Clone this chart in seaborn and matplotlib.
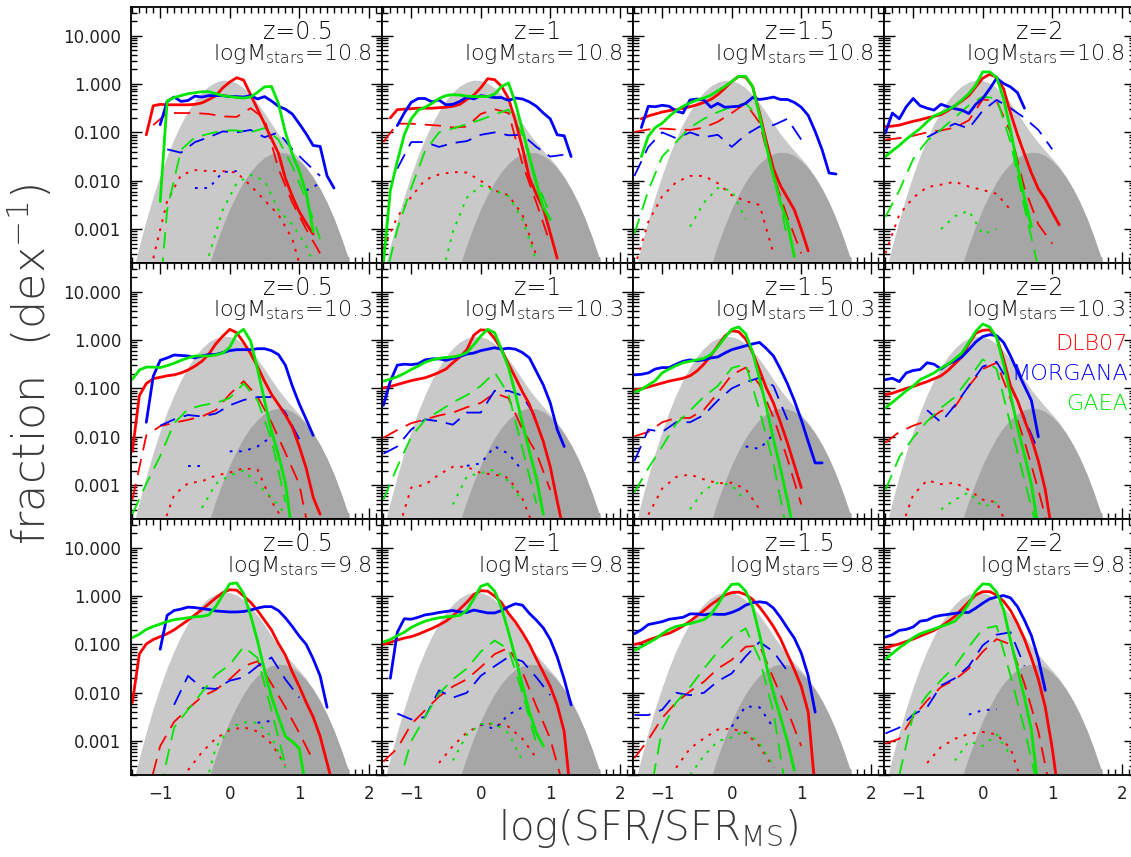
import numpy as np
import pandas as pd
import matplotlib
matplotlib.use('Agg')
import matplotlib.pyplot as plt
import seaborn as sns
from matplotlib.ticker import FixedLocator, MultipleLocator, LogLocator, NullFormatter

# panel grid: rows = stellar mass, columns = redshift
REDSHIFTS = ['0.5', '1', '1.5', '2']
MASSES = ['10.8', '10.3', '9.8']
MODELS = ['DLB07', 'MORGANA', 'GAEA']
MODEL_COLORS = ['#ff0000', '#0000ff', '#00e600']

# reference distributions (log10 fraction)
GRAY_X = np.round(np.arange(-1.5, 1.95, 0.1), 2)
TOTAL_LOG = [-4.54, -3.92, -3.34, -2.81, -2.32, -1.88, -1.48, -1.13, -0.82, -0.56,
             -0.34, -0.17, -0.04, 0.04, 0.08, 0.07, 0.02, -0.08, -0.22, -0.40,
             -0.60, -0.82, -1.03, -1.21, -1.38, -1.54, -1.71, -1.92, -2.16, -2.45,
             -2.78, -3.16, -3.58, -4.05, -4.56]
BURST_LOG = [-6, -6, -6, -6, -6, -6, -6, -6, -6, -6,
             -6, -4.24, -3.76, -3.32, -2.93, -2.58, -2.28, -2.02, -1.81, -1.64,
             -1.52, -1.44, -1.41, -1.42, -1.48, -1.59, -1.74, -1.93, -2.17, -2.45,
             -2.78, -3.16, -3.58, -4.05, -4.56]

# model curves: (first log(SFR/SFR_MS), log10 fraction values)
# solid: step 0.1, dashed / dotted: step 0.2; panels in row order
DLB07_SOLID = [
    (-1.2, [-1.05, -0.45, -0.42, -0.43, -0.43, -0.43, -0.43, -0.42, -0.39, -0.32, -0.24, -0.08, 0.04, 0.13, 0.08, -0.22, -0.52, -0.82, -1.13, -1.43, -1.95, -2.32, -2.64, -2.88, -3.1]),
    (-1.3, [-0.7, -0.53, -0.52, -0.51, -0.5, -0.5, -0.5, -0.49, -0.48, -0.46, -0.42, -0.32, -0.23, -0.08, 0.11, 0.09, -0.05, -0.3, -0.77, -1.32, -1.94, -2.28, -2.57, -3.08, -3.6]),
    (-1.3, [-0.72, -0.66, -0.62, -0.58, -0.55, -0.53, -0.5, -0.47, -0.43, -0.38, -0.32, -0.22, -0.09, 0.05, 0.16, 0.14, -0.05, -0.6, -1.2, -1.75, -2.1, -2.35, -2.6, -3.0, -3.45]),
    (-1.4, [-0.88, -0.87, -0.85, -0.81, -0.77, -0.74, -0.7, -0.67, -0.63, -0.55, -0.45, -0.35, -0.24, -0.06, 0.12, 0.2, 0.14, -0.1, -0.6, -1.05, -1.45, -1.84, -2.17, -2.38, -2.65, -2.91]),
    (-1.4, [-2.3, -1.15, -0.9, -0.8, -0.77, -0.74, -0.72, -0.68, -0.62, -0.54, -0.44, -0.29, -0.08, 0.08, 0.22, 0.15, -0.05, -0.28, -0.55, -0.85, -1.12, -1.33, -1.55, -1.8, -2.2, -2.65, -3.25, -3.6]),
    (-1.4, [-0.99, -0.96, -0.92, -0.88, -0.84, -0.81, -0.78, -0.73, -0.67, -0.6, -0.47, -0.35, -0.2, 0.1, 0.21, 0.2, 0.03, -0.2, -0.5, -0.78, -1.07, -1.33, -1.7, -2.1, -2.62, -3.33, -4.0]),
    (-1.4, [-1.03, -1.01, -0.97, -0.93, -0.89, -0.85, -0.82, -0.79, -0.74, -0.64, -0.5, -0.32, -0.12, 0.08, 0.19, 0.17, 0.02, -0.26, -0.62, -1.0, -1.3, -1.7, -2.12, -2.58, -3.05]),
    (-1.4, [-1.13, -1.1, -1.05, -1.0, -0.96, -0.91, -0.86, -0.8, -0.74, -0.63, -0.49, -0.35, -0.07, 0.14, 0.2, 0.21, 0.06, -0.4, -0.95, -1.25, -1.65, -2.03, -2.5, -3.1, -4.0]),
    (-1.4, [-2.2, -1.2, -0.99, -0.9, -0.84, -0.78, -0.7, -0.6, -0.5, -0.39, -0.28, -0.16, -0.04, 0.07, 0.13, 0.12, 0.0, -0.13, -0.3, -0.5, -0.7, -0.98, -1.22, -1.57, -1.87, -2.2, -2.5, -2.9, -3.45, -4.0]),
    (-1.4, [-1.0, -0.96, -0.91, -0.87, -0.84, -0.79, -0.73, -0.67, -0.6, -0.52, -0.41, -0.27, -0.13, 0.03, 0.11, 0.1, 0.0, -0.14, -0.36, -0.54, -0.76, -1.0, -1.3, -1.58, -1.87, -2.25, -2.8, -4.2]),
    (-1.4, [-1.0, -0.97, -0.91, -0.86, -0.81, -0.77, -0.7, -0.62, -0.52, -0.41, -0.3, -0.18, -0.08, 0.02, 0.07, 0.08, 0.03, -0.07, -0.23, -0.42, -0.63, -0.88, -1.2, -1.52, -1.87, -2.4, -4.0]),
    (-1.4, [-1.07, -1.03, -0.99, -0.94, -0.89, -0.83, -0.77, -0.71, -0.63, -0.53, -0.42, -0.27, -0.12, 0.02, 0.09, 0.09, 0.02, -0.11, -0.3, -0.57, -0.89, -1.28, -1.72, -2.3, -3.15, -4.2]),
]
MORGANA_SOLID = [
    (-1.0, [-0.84, -0.36, -0.27, -0.36, -0.34, -0.25, -0.27, -0.24, -0.24, -0.24, -0.26, -0.26, -0.27, -0.24, -0.31, -0.26, -0.35, -0.46, -0.52, -0.62, -0.82, -1.03, -1.27, -1.29, -1.9, -2.15]),
    (-1.2, [-0.86, -0.6, -0.38, -0.3, -0.3, -0.37, -0.33, -0.43, -0.42, -0.36, -0.27, -0.31, -0.24, -0.26, -0.28, -0.28, -0.34, -0.29, -0.31, -0.37, -0.46, -0.6, -0.72, -1.05, -1.07, -1.5]),
    (-1.3, [-0.9, -0.46, -0.47, -0.44, -0.46, -0.56, -0.6, -0.33, -0.31, -0.33, -0.48, -0.4, -0.48, -0.47, -0.46, -0.4, -0.28, -0.32, -0.3, -0.27, -0.32, -0.32, -0.38, -0.48, -0.65, -0.98, -1.36, -1.84, -1.86]),
    (-1.4, [-1.01, -0.6, -0.72, -0.47, -0.3, -0.45, -0.5, -0.54, -0.42, -0.47, -0.51, -0.54, -0.61, -0.42, -0.3, -0.1, 0.12, 0.01, -0.06, -0.18, -0.5]),
    (-1.2, [-1.7, -0.75, -0.42, -0.37, -0.31, -0.32, -0.33, -0.37, -0.33, -0.3, -0.3, -0.26, -0.22, -0.2, -0.2, -0.2, -0.18, -0.18, -0.22, -0.3, -0.52, -0.95, -1.32, -1.64, -1.97]),
    (-1.4, [-1.35, -0.85, -0.52, -0.5, -0.51, -0.49, -0.41, -0.39, -0.39, -0.42, -0.38, -0.34, -0.29, -0.27, -0.22, -0.19, -0.16, -0.19, -0.17, -0.19, -0.26, -0.37, -0.65, -0.93, -1.3, -1.85, -2.2]),
    (-1.4, [-0.72, -0.71, -0.68, -0.6, -0.57, -0.57, -0.5, -0.44, -0.41, -0.43, -0.41, -0.37, -0.35, -0.27, -0.2, -0.16, -0.12, -0.08, -0.05, -0.18, -0.33, -0.6, -0.9, -1.25, -1.65, -2.1, -2.54, -2.54]),
    (-1.4, [-0.82, -0.79, -0.86, -0.68, -0.63, -0.61, -0.47, -0.5, -0.6, -0.5, -0.43, -0.35, -0.2, -0.04, 0.07, 0.11, 0.09, -0.05, -0.33, -0.65, -0.95, -1.25, -2.0]),
    (-1.0, [-1.1, -0.4, -0.3, -0.27, -0.23, -0.24, -0.26, -0.28, -0.31, -0.32, -0.33, -0.33, -0.32, -0.29, -0.25, -0.22, -0.22, -0.3, -0.45, -0.63, -0.83, -1.0, -1.3, -1.65, -2.3]),
    (-1.3, [-1.7, -0.75, -0.47, -0.48, -0.44, -0.39, -0.37, -0.34, -0.32, -0.3, -0.33, -0.34, -0.29, -0.32, -0.35, -0.35, -0.3, -0.22, -0.16, -0.19, -0.36, -0.5, -0.66, -0.9, -1.26, -1.72, -2.25]),
    (-1.4, [-0.78, -0.7, -0.59, -0.56, -0.53, -0.48, -0.46, -0.44, -0.37, -0.37, -0.39, -0.37, -0.38, -0.38, -0.34, -0.28, -0.19, -0.14, -0.12, -0.14, -0.25, -0.44, -0.66, -0.87, -1.18, -1.65, -2.4]),
    (-1.4, [-0.85, -0.8, -0.71, -0.69, -0.64, -0.52, -0.5, -0.43, -0.4, -0.38, -0.36, -0.34, -0.34, -0.25, -0.15, -0.06, -0.02, 0.01, -0.04, -0.22, -0.5, -0.82, -1.3, -1.95]),
]
GAEA_SOLID = [
    (-1.0, [-2.43, -0.35, -0.28, -0.24, -0.2, -0.18, -0.16, -0.16, -0.2, -0.24, -0.26, -0.28, -0.29, -0.27, -0.17, -0.06, -0.05, -0.4, -1.0, -1.45, -1.8, -2.25, -3.05]),
    (-1.4, [-3.7, -2.2, -1.6, -1.05, -0.72, -0.54, -0.48, -0.4, -0.3, -0.24, -0.22, -0.23, -0.25, -0.26, -0.26, -0.26, -0.21, -0.05, 0.02, -0.4, -0.95, -1.5, -2.05, -2.55, -2.8]),
    (-1.3, [-1.5, -1.08, -0.9, -0.81, -0.67, -0.55, -0.46, -0.39, -0.33, -0.29, -0.23, -0.14, -0.05, 0.05, 0.16, 0.16, -0.05, -0.65, -1.3, -1.9, -2.45, -2.85, -3.57]),
    (-1.4, [-1.5, -1.38, -1.27, -1.14, -1.03, -0.92, -0.78, -0.66, -0.6, -0.53, -0.45, -0.33, -0.2, -0.02, 0.25, 0.25, 0.14, -0.3, -0.95, -1.7, -2.35, -2.95]),
    (-1.4, [-0.81, -0.62, -0.56, -0.56, -0.57, -0.53, -0.48, -0.42, -0.37, -0.33, -0.33, -0.33, -0.31, -0.27, -0.15, 0.12, 0.22, -0.02, -0.6, -1.25, -1.88, -2.37, -2.95, -4.0]),
    (-1.4, [-0.85, -0.81, -0.76, -0.69, -0.61, -0.54, -0.46, -0.41, -0.38, -0.36, -0.35, -0.32, -0.26, -0.1, 0.08, 0.22, 0.15, -0.2, -0.57, -1.12, -1.72, -2.3, -2.85, -3.6]),
    (-1.4, [-1.08, -1.02, -0.93, -0.84, -0.68, -0.6, -0.53, -0.47, -0.44, -0.41, -0.38, -0.3, -0.14, 0.05, 0.22, 0.27, 0.13, -0.25, -0.8, -1.4, -2.05, -2.65, -3.3, -4.0]),
    (-1.4, [-1.4, -1.29, -1.17, -1.05, -0.95, -0.82, -0.75, -0.68, -0.58, -0.5, -0.39, -0.27, -0.05, 0.18, 0.33, 0.27, 0.05, -0.5, -1.13, -1.8, -2.37, -2.99, -3.9]),
    (-1.4, [-0.86, -0.79, -0.69, -0.63, -0.58, -0.53, -0.49, -0.47, -0.45, -0.43, -0.42, -0.39, -0.22, 0.02, 0.25, 0.27, 0.05, -0.4, -0.93, -1.53, -2.08, -2.5, -2.9, -3.01, -3.15, -4.0]),
    (-1.4, [-0.95, -0.9, -0.82, -0.75, -0.65, -0.58, -0.52, -0.48, -0.45, -0.43, -0.42, -0.4, -0.3, -0.06, 0.2, 0.25, 0.1, -0.25, -0.75, -1.28, -1.85, -2.4, -2.83, -3.1]),
    (-1.4, [-1.12, -1.05, -0.97, -0.89, -0.78, -0.69, -0.63, -0.6, -0.57, -0.53, -0.49, -0.38, -0.18, 0.07, 0.24, 0.25, 0.1, -0.22, -0.8, -1.45, -2.0, -2.5, -3.0, -3.6]),
    (-1.4, [-1.3, -1.19, -1.07, -0.97, -0.86, -0.78, -0.73, -0.68, -0.63, -0.58, -0.52, -0.37, -0.16, 0.1, 0.25, 0.24, 0.08, -0.28, -0.92, -1.5, -2.1, -2.77, -4.0]),
]
DLB07_DASHED = [
    (-1.1, [-0.85, -0.6, -0.6, -0.6, -0.62, -0.67, -0.68, -0.5, -0.72, -1.75, -2.45, -3.0, -3.5]),
    (-1.4, [-1.2, -0.82, -0.82, -0.84, -0.86, -0.9, -0.88, -0.62, -0.52, -0.6, -1.65, -2.45, -3.3]),
    (-1.4, [-0.99, -0.94, -0.92, -0.94, -0.95, -0.9, -0.78, -0.6, -0.4, -0.8, -1.9, -2.75, -3.5]),
    (-1.4, [-1.15, -1.12, -1.07, -1.0, -0.96, -0.9, -0.75, -0.32, -0.35, -1.0, -2.15, -2.9, -3.3]),
    (-1.4, [-3.3, -1.97, -1.78, -1.71, -1.65, -1.58, -1.45, -1.12, -0.85, -1.17, -1.7, -2.33, -2.98, -4.4]),
    (-1.4, [-2.02, -1.86, -1.72, -1.64, -1.56, -1.5, -1.39, -1.3, -1.1, -1.2, -1.85, -2.33, -3.1]),
    (-1.4, [-1.99, -1.9, -1.7, -1.61, -1.61, -1.44, -1.1, -0.72, -0.57, -0.92, -1.6, -2.45, -3.4]),
    (-1.4, [-2.12, -1.9, -1.77, -1.67, -1.47, -1.38, -0.95, -0.6, -0.47, -1.22, -2.09, -3.1, -4.2]),
    (-1.2, [-4.2, -3.1, -2.6, -2.33, -2.08, -1.94, -1.72, -1.45, -1.35, -1.81, -2.3, -2.83, -3.4]),
    (-1.4, [-3.42, -3.15, -2.65, -2.36, -2.08, -1.87, -1.72, -1.47, -1.2, -1.07, -1.57, -2.28, -2.95, -4.0]),
    (-1.4, [-3.35, -2.97, -2.52, -2.2, -1.97, -1.77, -1.5, -1.32, -1.05, -1.02, -1.7, -2.36, -3.1]),
    (-1.4, [-3.05, -2.95, -2.5, -2.16, -1.88, -1.73, -1.5, -1.15, -0.89, -1.0, -1.81, -2.8, -4.2]),
]
MORGANA_DASHED = [
    (-0.9, [-1.35, -1.42, -1.2, -1.1, -0.98, -1.0, -0.95, -1.1, -1.0, -1.35, -1.63, -1.9]),
    (-1.2, [-1.75, -1.2, -1.2, -1.3, -1.22, -1.18, -1.05, -1.0, -1.06, -1.05, -1.3, -1.5, -1.46]),
    (-1.4, [-1.9, -1.3, -1.0, -1.12, -1.0, -1.1, -1.05, -1.3, -1.05, -0.88, -0.85, -0.72, -1.15]),
    (-0.8, [-1.1, -0.95, -0.82, -0.92, -0.55, -0.33, -0.5, -0.7, -0.95, -1.35]),
    (-1.0, [-1.77, -1.64, -1.55, -1.58, -1.52, -1.35, -1.24, -1.18, -1.18, -1.5, -2.05]),
    (-1.4, [-2.35, -2.2, -1.85, -1.64, -1.68, -1.75, -1.5, -1.5, -1.05, -1.05, -1.15, -1.62]),
    (-1.4, [-2.5, -1.85, -1.9, -1.7, -1.7, -1.55, -1.25, -1.0, -0.87, -0.78, -0.95, -1.65]),
    (-0.8, [-1.45, -1.7, -1.35, -0.95, -0.55, -0.45, -0.95, -1.61, -2.3]),
    (-0.8, [-2.25, -1.65, -1.9, -1.92, -1.75, -1.68, -1.45, -1.27, -1.72, -2.1]),
    (-1.2, [-2.43, -2.55, -2.5, -1.95, -2.1, -2.0, -1.65, -1.45, -1.26, -1.35, -1.68, -2.05]),
    (-1.4, [-2.46, -2.46, -2.35, -2.0, -2.05, -2.0, -1.76, -1.6, -1.25, -0.95, -1.15, -1.55]),
    (-1.4, [-2.84, -2.72, -2.45, -2.3, -1.85, -1.7, -1.45, -1.02, -0.8, -0.75, -1.45]),
]
GAEA_DASHED = [
    (-1.1, [-6.0, -2.6, -1.36, -1.1, -1.03, -0.96, -0.96, -1.0, -0.91, -1.15, -1.7, -2.39, -3.2]),
    (-1.4, [-4.2, -3.0, -2.15, -1.38, -1.0, -0.92, -0.83, -0.74, -0.63, -0.53, -1.05, -2.0, -2.7]),
    (-1.4, [-3.1, -2.2, -1.5, -1.2, -0.9, -0.72, -0.58, -0.47, -0.4, -0.7, -1.75, -3.2]),
    (-1.4, [-2.75, -2.2, -1.55, -1.17, -0.94, -0.69, -0.44, -0.26, -0.3, -1.2, -2.55, -3.8]),
    (-1.4, [-3.6, -2.97, -2.4, -1.72, -1.43, -1.35, -1.3, -1.2, -0.9, -1.25, -2.05, -3.35]),
    (-1.4, [-3.3, -2.62, -2.0, -1.65, -1.47, -1.29, -1.14, -0.95, -0.67, -1.12, -2.25, -3.38]),
    (-1.4, [-3.15, -2.65, -2.2, -1.73, -1.46, -1.17, -0.95, -0.58, -0.5, -1.45, -2.55, -4.0]),
    (-1.4, [-3.1, -2.42, -2.02, -1.68, -1.4, -1.18, -0.8, -0.4, -0.6, -1.75, -2.9, -4.0]),
    (-1.0, [-4.0, -2.72, -2.35, -1.99, -1.63, -1.42, -1.05, -1.28, -2.36, -3.5]),
    (-1.2, [-4.0, -3.0, -2.5, -2.02, -1.72, -1.5, -1.15, -0.92, -1.1, -2.0, -3.05]),
    (-1.2, [-4.3, -2.75, -2.2, -1.88, -1.5, -1.15, -0.85, -0.67, -1.3, -2.4, -4.2]),
    (-1.2, [-3.7, -2.45, -2.05, -1.74, -1.45, -1.05, -0.68, -0.62, -1.65, -2.75, -4.0]),
]
DLB07_DOTTED = [
    (-1.1, [-3.6, -2.42, -1.88, -1.78, -1.8, -1.8, -1.83, -2.1, -2.4, -2.7, -3.2, -4.2]),
    (-1.4, [-3.4, -2.75, -2.33, -1.98, -1.87, -1.82, -1.83, -2.0, -2.2, -2.3, -2.7, -3.55]),
    (-1.4, [-3.8, -2.85, -2.32, -2.03, -1.9, -1.9, -2.05, -2.3, -2.42, -2.5, -3.5]),
    (-1.4, [-3.5, -2.7, -2.35, -2.13, -2.08, -2.02, -2.12, -2.19, -2.27, -2.6]),
    (-1.0, [-4.0, -3.2, -2.96, -2.92, -2.8, -2.74, -2.65, -2.68, -3.33, -3.8]),
    (-1.2, [-4.0, -3.05, -2.99, -2.78, -2.62, -2.62, -2.75, -2.78, -2.85, -3.28, -4.0]),
    (-1.2, [-3.61, -3.07, -2.83, -2.78, -2.88, -2.96, -2.95, -3.08, -3.5]),
    (-1.2, [-4.0, -3.2, -2.9, -2.98, -2.95, -3.1, -3.3, -3.35, -4.0]),
    (-0.6, [-3.6, -3.23, -2.94, -2.77, -2.71, -2.8, -3.05, -3.5]),
    (-0.6, [-3.45, -3.1, -2.82, -2.67, -2.63, -2.7, -2.95, -3.35]),
    (-0.8, [-3.55, -3.15, -2.94, -2.76, -2.74, -2.83, -3.1, -3.55]),
    (-0.8, [-3.45, -3.12, -2.95, -2.85, -2.81, -2.86, -3.15, -4.0]),
]
MORGANA_DOTTED = [
    (-0.5, [-2.15, -2.15, -1.82, -1.8, None, None, None, None, -2.2, -2.05]),
    (0.0, []),
    (0.0, []),
    (0.0, []),
    (-0.6, [-2.61, -2.61, None, -2.3, -2.3, -2.2, -2.0]),
    (-0.2, [-2.6, -2.55, -2.2, -2.35, -2.7]),
    (0.2, [-2.2, -2.25, -1.95]),
    (0.0, []),
    (0.4, [-2.62, -2.58]),
    (-0.6, [-2.8, None, None, -2.65, -2.75, -2.45, -2.3]),
    (0.0, [-2.7, -2.28, -2.3, -2.72]),
    (-0.2, [-2.45, -2.36, -2.34]),
]
GAEA_DOTTED = [
    (-0.3, [-3.55, -2.6, -2.05, -1.88, -2.0, -2.6, -2.9, -3.35, -4.0]),
    (-0.6, [-4.2, -3.05, -2.35, -2.1, -2.2, -2.32, -2.8, -3.65]),
    (-0.6, [-2.95, -2.45, -2.15, -2.2, -2.8]),
    (-0.6, [-3.0, -2.73, -2.62, -3.1, -3.0]),
    (-0.4, [-3.47, -2.97, -2.8, -2.7, -2.98, -3.25, -3.6]),
    (-0.4, [-3.4, -2.82, -2.75, -2.68, -2.92, -3.35]),
    (-0.6, [-3.5, -3.1, -2.95, -3.0, -3.33]),
    (-0.6, [-3.5, -3.3, -3.15, -3.45, -3.35]),
    (-0.4, [-4.2, -3.13, -2.72, -2.61, -2.62, -2.91, -3.55]),
    (-0.4, [-3.4, -2.87, -2.65, -2.63, -2.84, -3.4]),
    (-0.6, [-3.7, -3.3, -3.0, -2.92, -2.78, -3.05, -3.5]),
    (-0.4, [-3.4, -3.0, -3.1, -2.86, -3.3]),
]

SOLID = [DLB07_SOLID, MORGANA_SOLID, GAEA_SOLID]
DASHED = [DLB07_DASHED, MORGANA_DASHED, GAEA_DASHED]
DOTTED = [DLB07_DOTTED, MORGANA_DOTTED, GAEA_DOTTED]

sns.set_style('ticks')
plt.rcParams['font.family'] = ['DejaVu Sans']
plt.rcParams['mathtext.default'] = 'regular'


def segments(spec, step):
    x0, vals = spec
    out, cur = [], []
    for i, v in enumerate(vals):
        if v is None:
            if len(cur) > 1:
                out.append(cur)
            cur = []
        else:
            cur.append((x0 + step * i, 10.0 ** v))
    if len(cur) > 1:
        out.append(cur)
    return out


def draw(ax, spec, step, color, ls, lw):
    for seg in segments(spec, step):
        df = pd.DataFrame(seg, columns=['x', 'y'])
        sns.lineplot(data=df, x='x', y='y', ax=ax, color=color, linestyle=ls,
                     linewidth=lw, estimator=None, sort=False, legend=False)


fig = plt.figure(figsize=(11.31, 8.57), dpi=100)
W, H = 1131.0, 857.0

for r, mass in enumerate(MASSES):
    for c, z in enumerate(REDSHIFTS):
        k = r * 4 + c
        ax = fig.add_axes([(131 + 251 * c) / W, 1 - (7 + 256 * (r + 1)) / H, 251 / W, 256 / H])
        ax.set_yscale('log')

        ax.fill_between(GRAY_X, 1e-6, 10.0 ** np.array(TOTAL_LOG), color='#c9c9c9', lw=0)
        ax.fill_between(GRAY_X, 1e-6, 10.0 ** np.array(BURST_LOG), color='#a6a6a6', lw=0)

        for m in range(3):
            draw(ax, DOTTED[m][k], 0.2, MODEL_COLORS[m], (0, (1.4, 3.4)), 1.4)
        for m in range(3):
            draw(ax, DASHED[m][k], 0.2, MODEL_COLORS[m], (0, (9, 5)), 1.3)
        for m in range(3):
            draw(ax, SOLID[m][k], 0.1, MODEL_COLORS[m], '-', 2.0)

        ax.set_xlim(-1.42, 2.19)
        ax.set_ylim(2e-4, 39)
        ax.set_xlabel('')
        ax.set_ylabel('')
        ax.xaxis.set_major_locator(FixedLocator([-1, 0, 1, 2]))
        ax.xaxis.set_minor_locator(MultipleLocator(0.1))
        ax.yaxis.set_major_locator(FixedLocator([1e-3, 1e-2, 1e-1, 1, 10]))
        ax.yaxis.set_minor_locator(LogLocator(base=10, subs=np.arange(2, 10)))
        ax.yaxis.set_minor_formatter(NullFormatter())
        ax.tick_params(which='both', direction='in', top=True, right=True,
                       color='black', width=1.0, labelsize=12, labelcolor='#222222')
        ax.tick_params(which='major', length=8, pad=7)
        ax.tick_params(which='minor', length=4)
        if c == 0:
            ax.set_yticklabels(['0.001', '0.010', '0.100', '1.000', '10.000'])
        else:
            ax.tick_params(labelleft=False)
        if r == 2:
            ax.set_xticklabels(['\u22121', '0', '1', '2'])
        else:
            ax.tick_params(labelbottom=False)
        for s in ax.spines.values():
            s.set_linewidth(1.3)
            s.set_color('black')

        ax.text(0.526, 0.875, 'z=' + z, transform=ax.transAxes, ha='left',
                va='baseline', fontsize=17, color='#111111', fontweight='light')
        ax.text(0.96, 0.793, r'logM$_{stars}$=' + mass, transform=ax.transAxes,
                ha='right', va='baseline', fontsize=16, color='#111111',
                fontweight='light')

        if r == 1 and c == 3:
            for name, col, yy in zip(MODELS, MODEL_COLORS, [0.66, 0.543, 0.426]):
                ax.text(0.972, yy, name, transform=ax.transAxes, ha='right',
                        va='baseline', fontsize=16, color=col, fontweight='light')

fig.text(30 / W, 1 - 365 / H, 'fraction  (dex$^{-1}$)', rotation=90,
         ha='center', va='center', fontsize=32, color='#3a3a3a', fontweight='light')
fig.text(648 / W, 1 - 828 / H, 'log(SFR/SFR$_{MS}$)', ha='center',
         va='center', fontsize=29, color='#3a3a3a', fontweight='light')

fig.savefig('out.png', dpi=100)
